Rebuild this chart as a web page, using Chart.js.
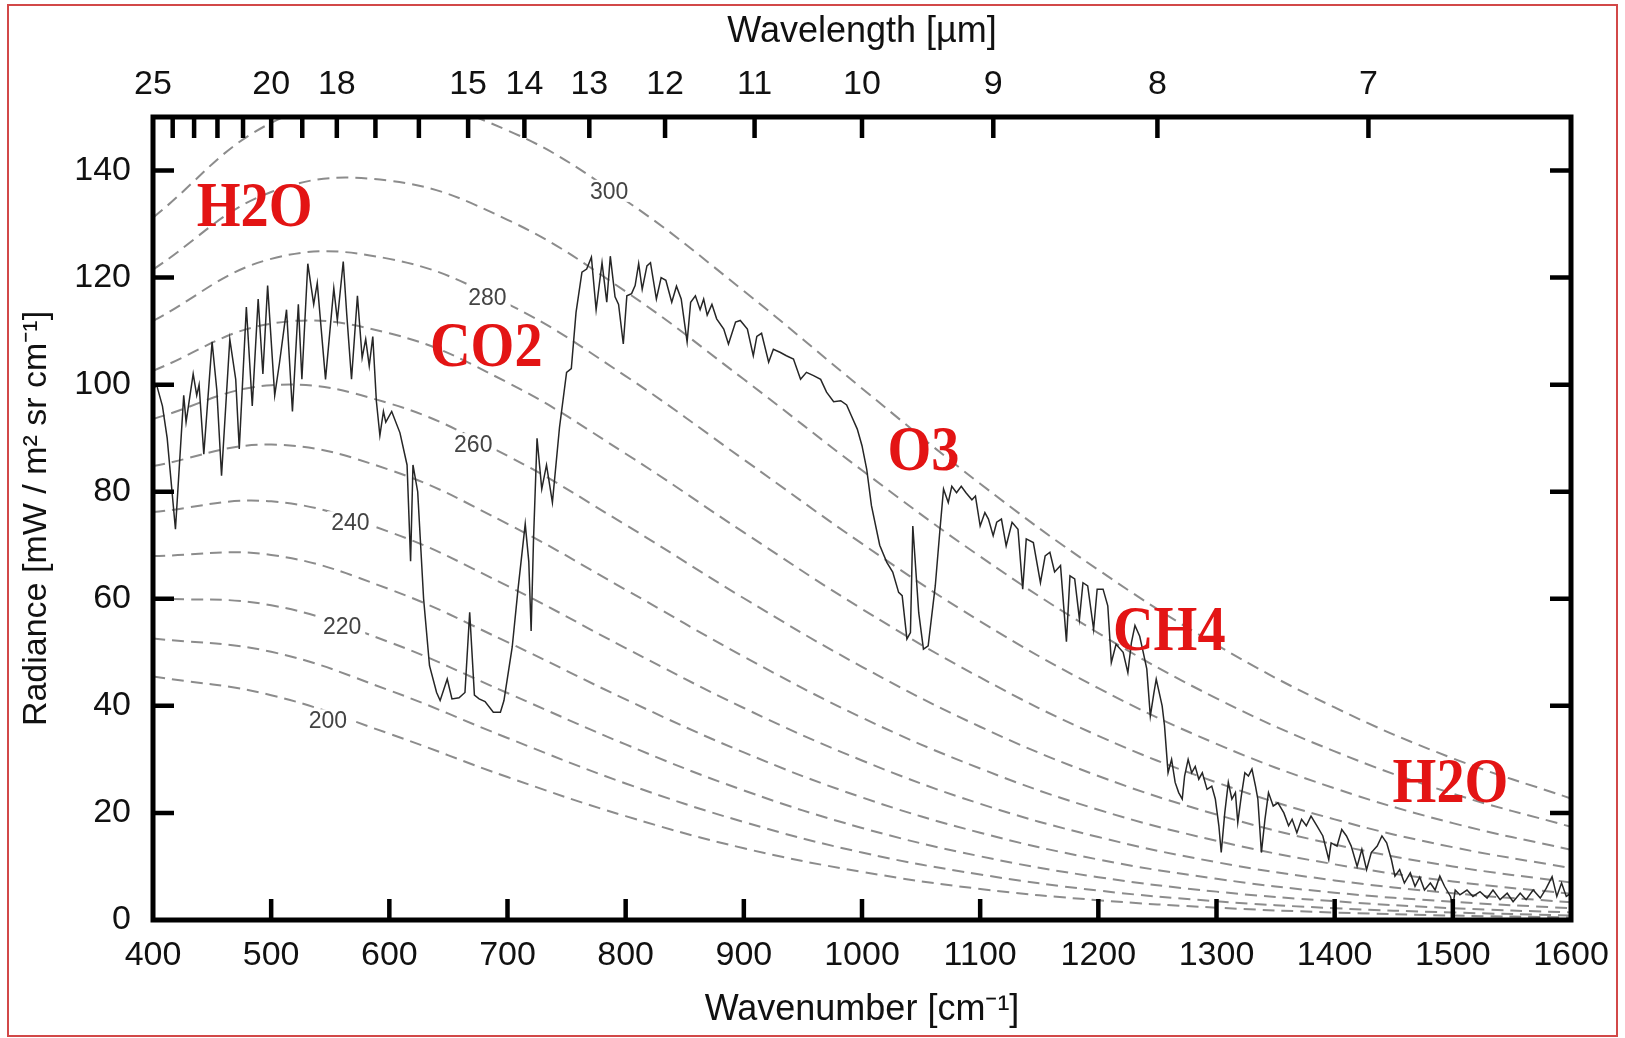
<!DOCTYPE html>
<html><head><meta charset="utf-8">
<style>html,body{margin:0;padding:0;background:#fff;}canvas{display:block;}</style>
<script src="https://cdn.jsdelivr.net/npm/chart.js@4.4.1/dist/chart.umd.min.js"></script>
</head><body>
<canvas id="c" width="1625" height="1038"></canvas>
<script>
// ---------- data ----------
const wnTicks = [400,500,600,700,800,900,1000,1100,1200,1300,1400,1500,1600];
const radTicks = [0,20,40,60,80,100,120,140];
const umTicks = [25,24,23,22,21,20,19,18,17,16,15,14,13,12,11,10,9,8,7];
const umLabeled = [25,20,18,15,14,13,12,11,10,9,8,7];

// Blackbody reference curves (read at every 100 cm-1)
const planckWn = [400,500,600,700,800,900,1000,1100,1200,1300,1400,1500,1600];
const b300 = [131.2,148.9,153.4,147.5,134.4,117.5,99.3,81.5,65.4,51.4,39.7,30.2,22.7];
const b290 = [121.5,136.0,138.1,130.8,117.4,101.0,84.0,67.9,53.6,41.4,31.5,23.6,17.4];
const b280 = [111.9,123.5,123.5,115.1,101.6,86.0,70.3,55.8,43.3,32.9,24.6,18.1,13.1];
const b270 = [102.6,111.4,109.6,100.4,87.1,72.4,58.1,45.3,34.4,25.7,18.8,13.6,9.7];
const b260 = [93.6,99.9,96.5,86.7,73.8,60.1,47.3,36.1,26.9,19.7,14.1,10.0,7.0];
const b250 = [84.8,88.8,84.1,74.0,61.7,49.2,37.8,28.3,20.6,14.8,10.4,7.2,4.9];
const b240 = [76.2,78.2,72.5,62.4,50.8,39.6,29.8,21.7,15.5,10.8,7.4,5.0,3.3];
const b230 = [68.0,68.2,61.8,51.9,41.2,31.3,22.9,16.3,11.3,7.7,5.1,3.4,2.2];
const b220 = [60.1,58.8,51.9,42.4,32.8,24.2,17.2,11.9,8.0,5.3,3.5,2.2,1.4];
const b210 = [52.6,50.1,42.9,34.0,25.5,18.3,12.6,8.5,5.5,3.5,2.2,1.4,0.85];
const b200 = [45.5,42.0,34.8,26.7,19.4,13.4,9.0,5.8,3.7,2.3,1.4,0.83,0.49];
const planckSeries = [b300,b290,b280,b270,b260,b250,b240,b230,b220,b210,b200];

// curve labels (temperature in K, anchored on the curve)
const tempLabelT = [300,280,260,240,220,200];
const tempLabelWn = [786,683,671,567,560,548];
const tempLabelRad = [136.2,116.4,88.9,74.3,55.0,37.3];

// measured spectrum
const specWn = [400,403,408,412,419,426,428,434,437,439,443,450,454,458,465,470,473,479,484,489,493,497,503,507,513,518,523,526,531,536,539,546,553,556,561,564,568,573,577,580,583,586,589,592,595,597,602,609,615,618,620,624,629,634,640,643,649,653,659,664,668,672,676,681,688,694,697,704,709,715,718,720,722,725,729,733,738,744,750,754,758,763,767,771,775,780,784,787,791,794,798,801,805,808,811,814,818,821,826,830,834,839,843,847,852,855,859,863,866,869,873,877,883,887,893,897,903,908,911,915,921,925,931,936,942,948,953,959,965,970,976,982,987,991,996,1000,1004,1008,1015,1021,1026,1031,1034,1038,1041,1043,1048,1052,1056,1062,1066,1069,1073,1076,1080,1084,1088,1093,1096,1100,1104,1107,1111,1114,1118,1122,1127,1132,1136,1139,1145,1151,1155,1159,1163,1168,1173,1176,1180,1184,1187,1191,1196,1199,1204,1208,1211,1215,1221,1225,1228,1231,1235,1238,1241,1244,1247,1249,1254,1256,1259,1262,1265,1268,1271,1273,1276,1279,1282,1285,1288,1292,1296,1299,1302,1304,1307,1310,1313,1316,1318,1321,1324,1327,1330,1333,1335,1338,1341,1344,1348,1352,1357,1361,1364,1368,1372,1376,1380,1385,1390,1395,1397,1402,1406,1410,1414,1419,1423,1427,1431,1436,1440,1444,1448,1451,1455,1459,1464,1468,1472,1476,1481,1485,1489,1493,1498,1500,1502,1506,1512,1517,1523,1529,1534,1540,1546,1551,1557,1562,1568,1574,1579,1584,1588,1592,1596,1600];
const specRad = [99,100,96,90,73,98,93,102,98,100,87,108,99,83,108.5,101,88,114.5,96,116,102,118.5,98,104,114,95,115,101,122.6,115,119,101,118,112,123,113,101,116.6,105,108.5,103.5,109,97,90.5,95,93,95,91,85,67,85,80,60,47.5,42.5,41,45,41.3,41.5,42.5,57.5,42,41.3,40.8,38.8,38.8,41,51,62,74,67,54,71,90,80.5,85,78,92,102.3,103,113.5,121,121.6,123.8,114,122.8,115.4,124,116.4,115,107.6,116.6,117,118.5,122.6,117.8,122.2,122.8,116,120,119.5,115.4,118.4,116,108,115.4,116.6,114,116,113,115,112.3,110.4,107.6,111.7,112,110.4,105.4,109,109.6,104.2,106.6,106,105.4,104.8,101,102.3,101.7,101,98.6,96.8,97,96.2,94.2,91.7,88.6,84.2,77.4,70,66.8,65,61.2,60.6,52.5,53.7,73.6,57.4,50.6,51.2,62.4,73,80.5,78,81,79.8,81,79.8,78.5,79.2,73.6,76.1,74.9,71.8,74.3,74.9,69.9,74.3,73,61.8,71.2,70.5,63,68,68.7,65,66.2,52,64.3,63.7,56.2,63,62.4,54.3,61.8,61.8,58.7,48.1,51.5,50,46.2,51.8,55,53,50,46.9,38.1,42.4,45,40,36.3,27.5,30,25.7,23.8,22.6,26.9,30,27.5,28.7,26.3,27.5,24.4,25,22.6,17.6,12.6,20,25.7,22.6,23.8,18.2,23.2,27.5,26.9,28.2,25,22.6,12.6,18.8,23.8,21.3,21.9,20,17.6,18.8,16.3,18.8,17.6,19.4,17.6,15.7,11.3,14.4,13.8,16.9,15.7,13.8,10,13.2,9.4,12.6,13.8,15.7,14.4,11.3,8.2,9.4,6.9,8.8,6.3,8,5.6,6.9,5.6,8.2,6.3,4.4,2.5,5.6,4.7,5.6,4.4,5.3,4.1,5.6,3.8,5,3.4,5,3.8,5.6,4.1,5.9,8.1,4.4,6.9,4.4,5];

// absorber labels (anchored in data units)
const gasLabelText = ['H2O','CO2','O3','CH4','H2O'];
const gasLabelWn = [486,682,1052,1260,1498];
const gasLabelRad = [133.6,107.5,88.0,54.4,26.0];

// ---------- chart ----------
const FONT = '"Liberation Sans", Arial, Helvetica, sans-serif';
Chart.defaults.font.family = FONT;
Chart.defaults.color = '#111';

const datasets = [{
  data: specWn.map((w, i) => ({x: w, y: specRad[i]})),
  borderColor: '#262626', borderWidth: 1.5, pointRadius: 0, tension: 0, fill: false
}];
planckSeries.forEach(arr => datasets.push({
  data: planckWn.map((w, i) => ({x: w, y: arr[i]})),
  borderColor: '#8c8c8c', borderWidth: 2, borderDash: [12, 7],
  pointRadius: 0, tension: 0.4, fill: false
}));

const decor = {
  id: 'decor',
  beforeDraw(chart) {
    const {ctx, width, height} = chart;
    ctx.save(); ctx.fillStyle = '#fff'; ctx.fillRect(0, 0, width, height); ctx.restore();
  },
  afterDatasetsDraw(chart) {
    const {ctx, scales: {x, y}} = chart;
    ctx.save();
    ctx.font = '23px ' + FONT;
    ctx.textAlign = 'center'; ctx.textBaseline = 'alphabetic';
    tempLabelT.forEach((t, i) => {
      const px = x.getPixelForValue(tempLabelWn[i]);
      const py = y.getPixelForValue(tempLabelRad[i]);
      const w = ctx.measureText(String(t)).width + 8;
      ctx.fillStyle = '#fff'; ctx.fillRect(px - w / 2, py - 11, w, 22);
      ctx.fillStyle = '#444'; ctx.fillText(String(t), px, py + 8);
    });
    ctx.restore();
  },
  afterDraw(chart) {
    const {ctx, chartArea: a, scales: {x, y}} = chart;
    ctx.save();
    ctx.strokeStyle = '#000'; ctx.lineWidth = 4.5; ctx.lineCap = 'butt';
    const TL = 21;
    ctx.beginPath();
    radTicks.forEach(v => {
      if (v === 0) return;
      const py = y.getPixelForValue(v);
      ctx.moveTo(a.left, py); ctx.lineTo(a.left + TL, py);
      ctx.moveTo(a.right, py); ctx.lineTo(a.right - TL, py);
    });
    wnTicks.forEach(v => {
      if (v === 400 || v === 1600) return;
      const px = x.getPixelForValue(v);
      ctx.moveTo(px, a.bottom); ctx.lineTo(px, a.bottom - TL);
    });
    umTicks.forEach(um => {
      if (um === 25) return;
      const px = x.getPixelForValue(10000 / um);
      ctx.moveTo(px, a.top); ctx.lineTo(px, a.top + TL);
    });
    ctx.stroke();
    ctx.lineWidth = 5;
    ctx.strokeRect(a.left, a.top, a.right - a.left, a.bottom - a.top);

    ctx.font = 'bold 64px "Liberation Serif", "Times New Roman", serif';
    ctx.fillStyle = '#e31414';
    ctx.textAlign = 'center'; ctx.textBaseline = 'alphabetic';
    gasLabelText.forEach((t, i) => {
      const px = x.getPixelForValue(gasLabelWn[i]);
      const py = y.getPixelForValue(gasLabelRad[i]);
      ctx.save(); ctx.translate(px, py); ctx.scale(0.88, 1);
      ctx.fillText(t, 0, 21); ctx.restore();
    });

    ctx.strokeStyle = '#d24848'; ctx.lineWidth = 2;
    ctx.strokeRect(8, 5, 1609, 1031);
    ctx.restore();
  }
};

new Chart(document.getElementById('c'), {
  type: 'line',
  data: {datasets},
  plugins: [decor],
  options: {
    responsive: false, animation: false, devicePixelRatio: 1,
    layout: {padding: {left: 0, right: 54, top: 0, bottom: 0}},
    plugins: {legend: {display: false}, tooltip: {enabled: false}},
    scales: {
      x: {
        type: 'linear', position: 'bottom', min: 400, max: 1600,
        afterBuildTicks: s => { s.ticks = wnTicks.map(v => ({value: v})); },
        afterFit: s => { s.height = 118; },
        grid: {display: false, drawTicks: false}, border: {display: false},
        ticks: {font: {size: 34}, color: '#111', padding: 15, maxRotation: 0, autoSkip: false,
                callback: v => String(v)},
        title: {display: true, text: 'Wavenumber [cm\u207B\u00B9]', font: {size: 36}, color: '#111',
                padding: {top: 0, bottom: 6}}
      },
      xTop: {
        type: 'linear', position: 'top', min: 400, max: 1600,
        afterBuildTicks: s => { s.ticks = umTicks.map(um => ({value: 10000 / um})); },
        afterFit: s => { s.height = 117; },
        grid: {display: false, drawTicks: false}, border: {display: false},
        ticks: {font: {size: 34}, color: '#111', padding: 12, maxRotation: 0, autoSkip: false,
                callback: v => { const um = Math.round(10000 / v); return umLabeled.includes(um) ? String(um) : ''; }},
        title: {display: true, text: 'Wavelength [\u00B5m]', font: {size: 36}, color: '#111',
                padding: {top: 10, bottom: 0}}
      },
      y: {
        type: 'linear', position: 'left', min: 0, max: 150,
        afterBuildTicks: s => { s.ticks = radTicks.map(v => ({value: v})); },
        afterFit: s => { s.width = 153; },
        grid: {display: false, drawTicks: false}, border: {display: false},
        ticks: {font: {size: 34}, color: '#111', padding: 22, callback: v => String(v)},
        title: {display: true, text: 'Radiance [mW / m\u00B2 sr cm\u207B\u00B9]', font: {size: 34}, color: '#111',
                padding: {top: 16, bottom: 0}}
      }
    }
  }
});
</script>
</body></html>
